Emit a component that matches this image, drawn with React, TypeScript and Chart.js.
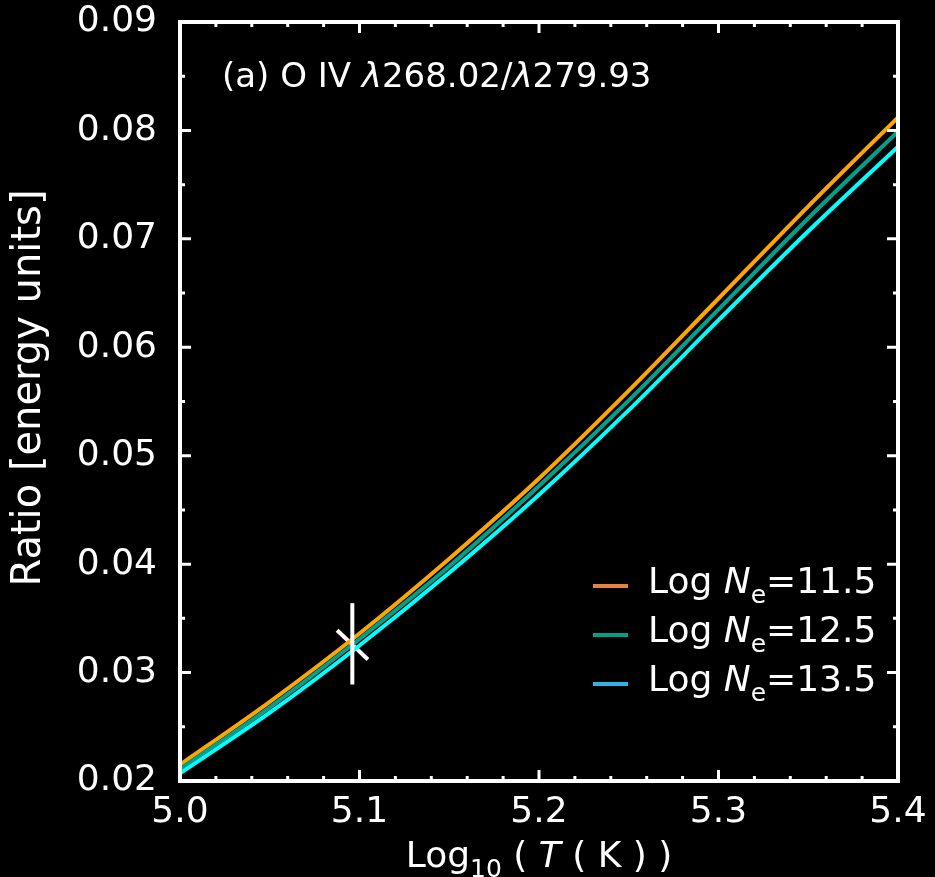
import React, { useEffect, useRef } from "react";
import { Chart, registerables } from "chart.js";

Chart.register(...registerables);

// ---- data ----
const temps = [5.0, 5.05, 5.1, 5.15, 5.2, 5.25, 5.3, 5.35, 5.4];
const ratioNe115 = [0.0215, 0.0273, 0.0336, 0.0405, 0.0479, 0.056, 0.0645, 0.073, 0.0812];
const ratioNe125 = [0.0211, 0.0268, 0.0331, 0.0398, 0.0472, 0.0551, 0.0635, 0.0719, 0.0799];
const ratioNe135 = [0.0207, 0.0263, 0.0325, 0.0392, 0.0464, 0.0542, 0.0625, 0.0707, 0.0785];
const seriesLabels = ["11.5", "12.5", "13.5"];
const markerT = [5.096, 5.096];
const markerRatio = [0.0289, 0.0364];
const slashT = [5.0875, 5.1047];
const slashRatio = [0.0339, 0.0312];
const xTicks = [5.0, 5.1, 5.2, 5.3, 5.4];
const yTicks = [0.02, 0.03, 0.04, 0.05, 0.06, 0.07, 0.08, 0.09];

const FONT = "DejaVu Sans";
const lineColors = ["#FFA500", "#00A08C", "#00FFFF"];
const legendColors = ["#E8823A", "#00A08C", "#2BB5E8"];

const pts = (xs: number[], ys: number[]) => xs.map((x, i) => ({ x, y: ys[i] }));

type Seg = { text: string; italic?: boolean; sub?: boolean };

function drawRich(ctx: CanvasRenderingContext2D, segs: Seg[], x: number, y: number, size: number, measureOnly = false) {
  let cx = x;
  for (const s of segs) {
    const fs = s.sub ? Math.round(size * 0.7) : size;
    ctx.font = `${s.italic ? "italic " : ""}${fs}px "${FONT}"`;
    const w = ctx.measureText(s.text).width;
    if (!measureOnly) ctx.fillText(s.text, cx, s.sub ? y + size * 0.28 : y);
    cx += w;
  }
  return cx - x;
}

const decorPlugin = {
  id: "decor",
  beforeDraw(chart: any) {
    const { ctx } = chart;
    ctx.save();
    ctx.fillStyle = "#000";
    ctx.fillRect(0, 0, chart.width, chart.height);
    ctx.restore();
  },
  afterDraw(chart: any) {
    const { ctx, chartArea: a } = chart;
    const xs = chart.scales.x;
    const ys = chart.scales.y;
    ctx.save();
    ctx.strokeStyle = "#fff";
    ctx.fillStyle = "#fff";
    // ticks
    ctx.lineWidth = 3;
    ctx.beginPath();
    for (let i = 0; i <= 20; i++) {
      const v = 5.0 + i * 0.02;
      const px = xs.getPixelForValue(v);
      const len = i % 5 === 0 ? 11 : 5;
      ctx.moveTo(px, a.bottom);
      ctx.lineTo(px, a.bottom - len);
      ctx.moveTo(px, a.top);
      ctx.lineTo(px, a.top + len);
    }
    for (let i = 0; i <= 14; i++) {
      const v = 0.02 + i * 0.005;
      const py = ys.getPixelForValue(v);
      const len = i % 2 === 0 ? 11 : 5;
      ctx.moveTo(a.left, py);
      ctx.lineTo(a.left + len, py);
      ctx.moveTo(a.right, py);
      ctx.lineTo(a.right - len, py);
    }
    ctx.stroke();
    // frame
    ctx.lineWidth = 4;
    ctx.strokeRect(a.left, a.top, a.right - a.left, a.bottom - a.top);

    // annotation
    ctx.textBaseline = "alphabetic";
    ctx.textAlign = "left";
    drawRich(ctx, [
      { text: "(a) O IV " },
      { text: "λ", italic: true },
      { text: "268.02/" },
      { text: "λ", italic: true },
      { text: "279.93" },
    ], a.left + 42, a.top + 65, 34);

    // legend
    seriesLabels.forEach((lab, i) => {
      const yc = 586 + i * 49;
      ctx.strokeStyle = legendColors[i];
      ctx.lineWidth = 4;
      ctx.beginPath();
      ctx.moveTo(593, yc);
      ctx.lineTo(628, yc);
      ctx.stroke();
      ctx.fillStyle = "#fff";
      drawRich(ctx, [
        { text: "Log " },
        { text: "N", italic: true },
        { text: "e", sub: true },
        { text: "=" + lab },
      ], 648, yc + 7, 36);
    });

    // x title
    const xt: Seg[] = [
      { text: "Log" },
      { text: "10", sub: true },
      { text: " ( " },
      { text: "T", italic: true },
      { text: " ( K ) )" },
    ];
    const w = drawRich(ctx, xt, 0, 0, 36, true);
    ctx.fillStyle = "#fff";
    drawRich(ctx, xt, (a.left + a.right) / 2 - w / 2, 867, 36);

    // y title
    ctx.save();
    ctx.translate(30, 388);
    ctx.rotate(-Math.PI / 2);
    ctx.textAlign = "center";
    ctx.textBaseline = "middle";
    ctx.font = `40px "${FONT}"`;
    ctx.fillText("Ratio [energy units]", 0, 0);
    ctx.restore();
    ctx.restore();
  },
};

export default function App() {
  const ref = useRef<HTMLCanvasElement | null>(null);
  useEffect(() => {
    document.body.style.margin = "0";
    document.body.style.background = "#000";
    const cv = ref.current!;
    const chart = new Chart(cv, {
      type: "line",
      data: {
        datasets: [
          {
            label: "marker",
            data: pts(markerT, markerRatio),
            borderColor: "#fff",
            borderWidth: 4,
            pointRadius: 0,
            order: 0,
          },
          {
            label: "Log Ne=13.5",
            data: pts(temps, ratioNe135),
            borderColor: lineColors[2],
            borderWidth: 4,
            pointRadius: 0,
            cubicInterpolationMode: "monotone",
            order: 1,
          },
          {
            label: "Log Ne=12.5",
            data: pts(temps, ratioNe125),
            borderColor: lineColors[1],
            borderWidth: 4,
            pointRadius: 0,
            cubicInterpolationMode: "monotone",
            order: 2,
          },
          {
            label: "Log Ne=11.5",
            data: pts(temps, ratioNe115),
            borderColor: lineColors[0],
            borderWidth: 4,
            pointRadius: 0,
            cubicInterpolationMode: "monotone",
            order: 3,
          },
          {
            label: "slash",
            data: pts(slashT, slashRatio),
            borderColor: "#fff",
            borderWidth: 4,
            pointRadius: 0,
            order: 4,
          },
        ],
      },
      options: {
        animation: false,
        responsive: false,
        devicePixelRatio: 1,
        layout: { padding: { left: 0, right: 37, top: 22, bottom: 0 } },
        plugins: { legend: { display: false }, tooltip: { enabled: false } },
        scales: {
          x: {
            type: "linear",
            min: 5.0,
            max: 5.4,
            afterFit: (s: any) => { s.height = 96; s.paddingLeft = 0; s.paddingRight = 0; },
            afterBuildTicks: (s: any) => { s.ticks = xTicks.map((v) => ({ value: v })); },
            grid: { display: false, drawTicks: false },
            border: { display: false },
            ticks: {
              color: "#fff",
              padding: 10,
              font: { size: 36, family: FONT },
              callback: (v: any) => Number(v).toFixed(1),
            },
          },
          y: {
            type: "linear",
            min: 0.02,
            max: 0.09,
            afterFit: (s: any) => { s.width = 180; s.paddingTop = 0; s.paddingBottom = 0; },
            afterBuildTicks: (s: any) => { s.ticks = yTicks.map((v) => ({ value: v })); },
            grid: { display: false, drawTicks: false },
            border: { display: false },
            title: { display: false },
            ticks: {
              color: "#fff",
              padding: 23,
              font: { size: 36, family: FONT },
              callback: (v: any) => Number(v).toFixed(2),
            },
          },
        },
      },
      plugins: [decorPlugin],
    } as any);
    return () => chart.destroy();
  }, []);
  return (
    <div style={{ position: "fixed", left: 0, top: 0, width: 935, height: 877, background: "#000" }}>
      <canvas ref={ref} width={935} height={877} style={{ display: "block" }} />
    </div>
  );
}
